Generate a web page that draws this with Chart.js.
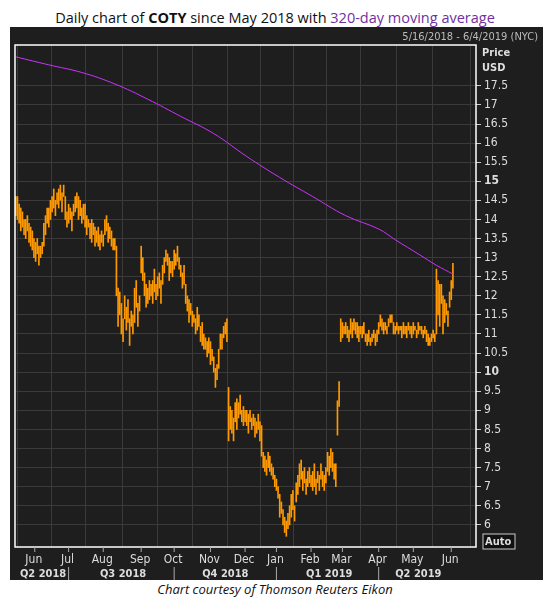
<!DOCTYPE html>
<html><head><meta charset="utf-8">
<script src="https://cdn.jsdelivr.net/npm/chart.js@4"></script>
<style>
html,body{margin:0;padding:0;background:#fff;width:550px;height:605px;overflow:hidden;font-family:"Liberation Sans",Arial,sans-serif}
#title{position:absolute;left:0;top:8px;width:550px;text-align:center;font-size:14.5px;color:#111;font-family:"Open Sans","Liberation Sans",sans-serif}
#title b{font-weight:700}#title span{color:#7030a0}
#panel{position:absolute;left:10px;top:27px;width:533px;height:553px;background:#1e1e1e}
#range{position:absolute;right:12px;top:30px;font-size:11px;color:#bbb;font-family:"DejaVu Sans Condensed","DejaVu Sans",sans-serif;z-index:2}
#foot{position:absolute;left:0;top:580px;width:550px;text-align:center;font-size:13px;font-style:italic;color:#111;font-family:"Open Sans","Liberation Sans",sans-serif}
canvas{position:absolute;left:0;top:0}
</style></head><body>
<div id="title">Daily chart of <b>COTY</b> since May 2018 with <span>320-day moving average</span></div>
<div id="panel"><canvas id="c" width="533" height="553"></canvas></div>
<div id="range">5/16/2018 - 6/4/2019 (NYC)</div>
<div id="foot">Chart courtesy of Thomson Reuters Eikon</div>
<script>
const lows = [
14.1,14.0,13.9,13.7,13.8,13.6,13.5,13.7,13.4,13.3,
13.2,13.0,12.9,13.1,12.8,13.0,13.1,13.3,13.6,13.9,
13.8,14.0,14.2,14.3,14.1,14.4,14.3,14.5,14.2,14.6,
14.0,13.8,13.9,14.0,13.7,14.1,14.2,14.3,14.0,14.1,
13.9,14.0,13.8,13.6,13.8,13.5,13.4,13.6,13.3,13.4,
13.3,13.2,13.4,13.3,13.6,13.7,13.4,13.5,13.3,13.2,
13.2,12.0,11.2,11.5,11.0,10.8,11.4,11.1,11.3,10.7,
11.2,11.0,11.3,11.7,11.2,11.6,12.6,12.4,12.0,11.7,
11.8,11.9,12.0,11.8,12.1,11.9,12.0,12.2,11.8,12.3,
12.6,12.9,12.8,12.4,12.6,12.5,12.7,12.8,12.9,12.7,
12.5,12.2,12.3,11.8,11.6,11.3,11.5,11.2,11.3,11.0,
11.1,11.2,10.8,10.7,10.6,10.6,10.4,10.5,10.2,10.3,
10.0,9.6,9.8,10.1,10.6,10.6,10.9,11.0,10.8,8.2,
8.5,8.4,8.2,8.7,8.5,8.8,8.9,8.7,8.6,8.7,
8.6,8.4,8.7,8.5,8.6,8.3,8.4,8.5,8.2,7.8,
7.5,7.4,7.3,7.5,7.4,7.3,7.2,7.0,6.9,6.7,
6.2,6.3,6.0,5.8,5.7,5.9,6.0,6.2,6.4,6.1,
6.6,6.8,7.0,7.2,6.9,7.1,6.8,7.0,7.1,7.0,
6.9,7.0,6.8,7.1,6.9,7.2,7.0,6.9,7.1,7.4,
7.3,7.5,7.4,7.2,7.0,8.35,9.1,10.8,10.9,11.0,
11.0,10.9,10.8,11.0,10.9,11.1,11.0,10.9,10.8,11.0,
10.9,11.0,10.8,10.7,10.8,10.7,10.8,10.9,10.7,10.8,
11.0,11.2,11.1,11.0,11.1,11.0,11.2,11.3,11.3,11.0,
11.0,11.1,11.0,11.1,10.9,11.0,11.0,10.9,11.1,11.0,
10.9,11.0,11.1,10.9,11.0,11.1,11.0,10.9,11.0,10.8,
10.7,10.7,10.8,10.9,10.8,11.0,11.5,11.2,11.8,11.0,
11.3,11.5,11.2,11.7,11.9,12.2];
const highs = [
14.6,14.6,14.4,14.3,14.2,14.0,14.0,14.1,13.9,13.8,
13.7,13.5,13.4,13.5,13.3,13.3,13.4,13.9,14.1,14.3,
14.3,14.5,14.6,14.8,14.5,14.7,14.8,14.9,14.7,14.9,
14.6,14.2,14.4,14.3,14.2,14.4,14.6,14.7,14.6,14.5,
14.3,14.4,14.4,14.1,14.0,13.9,14.0,13.9,13.8,13.7,
13.8,13.6,13.7,13.6,14.0,14.1,13.9,13.8,13.7,13.5,
13.5,13.3,12.2,12.1,11.8,11.4,12.0,11.7,11.9,11.4,
11.6,11.5,12.2,12.4,11.8,12.0,13.3,13.0,12.6,12.3,
12.2,12.4,12.3,12.4,12.7,12.3,12.5,12.6,12.4,12.8,
13.0,13.2,13.1,13.0,12.9,12.9,13.2,13.1,13.3,13.0,
12.8,12.6,12.8,12.3,12.0,11.9,11.8,11.6,11.5,11.4,
11.7,11.5,11.2,11.3,11.0,10.9,10.8,10.9,10.8,10.6,
10.4,10.1,10.2,10.6,11.0,11.0,11.2,11.3,11.4,9.6,
9.1,9.0,8.8,9.2,9.3,9.2,9.4,9.0,9.1,9.0,
9.0,8.9,9.0,8.8,8.9,8.8,8.7,8.9,8.7,8.6,
7.9,7.8,7.7,7.9,7.8,7.6,7.5,7.3,7.2,7.0,
6.8,6.6,6.4,6.2,6.1,6.3,6.5,6.8,6.9,6.5,
7.1,7.3,7.6,7.7,7.4,7.5,7.2,7.4,7.5,7.3,
7.4,7.6,7.2,7.4,7.3,7.6,7.4,7.3,7.5,7.9,
7.8,8.0,7.9,7.6,7.6,9.25,9.75,11.4,11.3,11.2,
11.3,11.2,11.1,11.4,11.3,11.4,11.3,11.3,11.2,11.2,
11.2,11.3,11.0,11.0,11.1,10.9,11.0,11.1,11.0,11.1,
11.3,11.5,11.4,11.3,11.3,11.2,11.4,11.5,11.5,11.3,
11.2,11.3,11.2,11.2,11.2,11.3,11.2,11.2,11.3,11.2,
11.2,11.3,11.2,11.1,11.3,11.2,11.2,11.1,11.2,11.1,
11.0,10.9,11.0,11.1,11.0,12.7,12.4,12.3,12.3,12.0,
11.9,11.8,11.6,12.1,12.4,12.85];
const maIdx = [0,20,40,60,80,100,120,140,160,180,200,220,230,245,255,265];
const maVal = [18.26,18.05,17.85,17.55,17.15,16.7,16.25,15.65,15.1,14.6,14.1,13.75,13.47,13.07,12.8,12.57];
const monthLabels = ["Jun","Jul","Aug","Sep","Oct","Nov","Dec","Jan","Feb","Mar","Apr","May","Jun"];
const monthPos = [11.5,32,53,76,96,118,139,158,179,198,220,241,264];
const quarterLabels = ["Q2 2018","Q3 2018","Q4 2018","Q1 2019","Q2 2019"];
const quarterPos = [2.5,51,113,176,230];
const quarterSep = [32,96,158,220];
const yTicks = [6,6.5,7,7.5,8,8.5,9,9.5,10,10.5,11,11.5,12,12.5,13,13.5,14,14.5,15,15.5,16,16.5,17,17.5];

const bars = lows.map((l,i)=>({x:i,y:[l,highs[i]]}));
const ma = maIdx.map((x,i)=>({x:x,y:maVal[i]}));
const AX = '"DejaVu Sans Condensed","DejaVu Sans",sans-serif';

const deco = {
 id:'deco',
 afterDraw(ch){
  const c=ch.ctx, a=ch.chartArea, xs=ch.scales.x;
  c.save();
  c.strokeStyle='#fff'; c.lineWidth=1.5;
  c.strokeRect(a.left,a.top,a.right-a.left,a.bottom-a.top);
  c.font='12px '+AX; c.fillStyle='#ddd'; c.textBaseline='middle';
  c.strokeStyle='#aaa'; c.lineWidth=1;
  monthPos.forEach((p,i)=>{
   const x=xs.getPixelForValue(p);
   c.beginPath();c.moveTo(x,a.bottom);c.lineTo(x,a.bottom+5);c.stroke();
   c.textAlign='center'; c.fillText(monthLabels[i],x-1,a.bottom+13);
  });
  c.font='bold 11px '+AX; c.fillStyle='#ddd';
  quarterPos.forEach((p,i)=>{c.textAlign='left';c.fillText(quarterLabels[i],xs.getPixelForValue(p),a.bottom+27);});
  quarterSep.forEach(p=>{const x=xs.getPixelForValue(p);c.beginPath();c.moveTo(x,a.bottom+20);c.lineTo(x,a.bottom+33);c.stroke();});
  c.fillStyle='#ddd'; c.font='bold 11px '+AX; c.textAlign='left';
  c.fillText('Price',a.right+6,a.top+8); c.fillText('USD',a.right+6,a.top+23);
  c.fillStyle='#111'; c.fillRect(a.right+7,a.bottom-13,32,15);
  c.strokeStyle='#ccc'; c.strokeRect(a.right+7,a.bottom-13,32,15);
  c.fillStyle='#ddd'; c.fillText('Auto',a.right+9,a.bottom-5);
  c.restore();
 }
};

new Chart(document.getElementById('c'),{
 type:'bar',
 data:{datasets:[
  {type:'line',data:ma,borderColor:'#cc33ff',borderWidth:1,pointRadius:0,tension:0.4,order:0},
  {data:bars,backgroundColor:'#ff9900',barThickness:1,order:1}
 ]},
 options:{
  responsive:false,animation:false,
  layout:{padding:{left:5,top:18,right:0,bottom:0}},
  plugins:{legend:{display:false},tooltip:{enabled:false}},
  scales:{
   x:{type:'linear',min:-0.5,max:279,offset:false,
      afterBuildTicks(s){s.ticks=monthPos.map(v=>({value:v}));},
      afterFit(s){s.height=33;},
      ticks:{display:false},
      grid:{color:'#3a3a3a',drawTicks:false},border:{display:false}},
   y:{position:'right',min:5.42,max:18.57,
      afterBuildTicks(s){s.ticks=yTicks.map(v=>({value:v}));},
      afterFit(s){s.width=67;},
      ticks:{color:'#ddd',padding:3,font:(c)=>({family:AX,size:12,weight:(c.tick&&(c.tick.value===10||c.tick.value===15))?'bold':'normal'}),
             callback:v=>String(v)},
      grid:{color:'#3a3a3a',tickColor:'#ccc',tickLength:5},border:{display:false}}
  }
 },
 plugins:[deco]
});
</script></body></html>
